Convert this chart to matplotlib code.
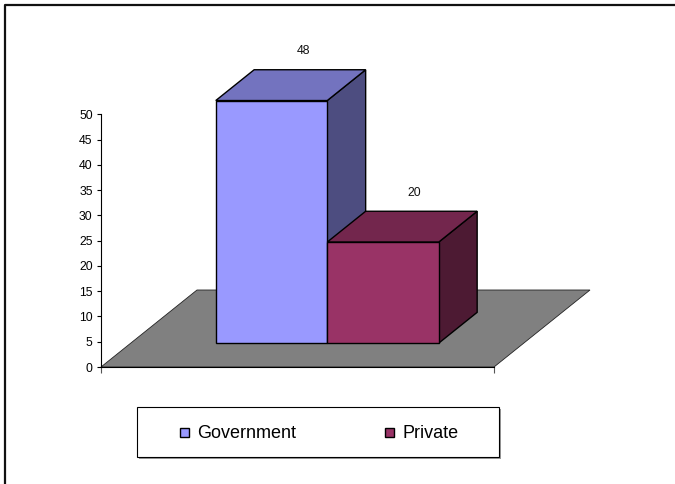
import numpy as np
import matplotlib
matplotlib.use("Agg")
import matplotlib.pyplot as plt
from matplotlib.patches import Polygon, Rectangle
from matplotlib.lines import Line2D

plt.rcParams['font.family'] = ['Liberation Sans', 'DejaVu Sans']

# data
series = ['Government', 'Private']
values = [48, 20]
front_colors = ['#9999FF', '#993366']
top_colors = ['#7373BF', '#73264D']
side_colors = ['#4D4D80', '#4D1A33']
y_ticks = list(range(0, 55, 5))

W, H = 675, 484
fig = plt.figure(figsize=(W / 100, H / 100), dpi=100)

# plot area: front edge of floor, 0..50 on the front axis
ax = fig.add_axes([101 / W, (H - 367) / H, 393 / W, 252.7 / H])
ax.set_facecolor('none')
ax.set_zorder(2)
ax.set_xlim(0, 1)
ax.set_ylim(0, 50)

# 3d depth of the floor in data units
dxu = 96 / 393
dyu = 77 * 50 / 252.7
f0, bd = 0.31, 0.40      # bar front depth and bar depth (fraction of floor depth)
bw = 111.5 / 393         # bar width
cat_center = 0.5

# floor
floor = Polygon([(0, 0), (1, 0), (1 + dxu, dyu), (dxu, dyu)], closed=True,
                facecolor='#808080', edgecolor='#222222', lw=0.6, clip_on=False, zorder=1)
ax.add_patch(floor)

ox, oy = f0 * dxu, f0 * dyu
bx, by = bd * dxu, bd * dyu
for i, (name, v) in enumerate(zip(series, values)):
    x0 = cat_center - bw + i * bw + ox
    x1 = x0 + bw
    front = Polygon([(x0, oy), (x1, oy), (x1, oy + v), (x0, oy + v)],
                    facecolor=front_colors[i], edgecolor='black', lw=1.0,
                    clip_on=False, zorder=3 + i)
    top = Polygon([(x0, oy + v), (x1, oy + v), (x1 + bx, oy + v + by), (x0 + bx, oy + v + by)],
                  facecolor=top_colors[i], edgecolor='black', lw=1.0,
                  clip_on=False, zorder=3 + i)
    side = Polygon([(x1, oy), (x1 + bx, oy + by), (x1 + bx, oy + v + by), (x1, oy + v)],
                   facecolor=side_colors[i], edgecolor='black', lw=1.0,
                   clip_on=False, zorder=3 + i)
    for p in (side, top, front):
        ax.add_patch(p)
    lx = cat_center - bw + i * bw + bw / 2 + 0.64 * dxu
    ax.annotate(str(v), (lx, oy + v + by), xytext=(0, 11), textcoords='offset points',
                ha='center', va='baseline', fontsize=8.8, color='#111111',
                annotation_clip=False, zorder=10)

for s in ['top', 'right']:
    ax.spines[s].set_visible(False)
ax.spines['left'].set_linewidth(0.8)
ax.spines['bottom'].set_linewidth(0.8)
ax.spines['left'].set_zorder(6)
ax.set_yticks(y_ticks)
ax.set_yticklabels([str(t) for t in y_ticks])
ax.tick_params(axis='y', direction='out', length=3, width=0.8, pad=3,
               labelsize=8.8, colors='black')
ax.set_xticks([0, 1])
ax.set_xticklabels(['', ''])
ax.tick_params(axis='x', direction='out', length=4, width=0.8, color='#555555')

# overlay for chart border and legend (pixel coordinates)
lax = fig.add_axes([0, 0, 1, 1])
lax.set_zorder(1)
lax.set_facecolor('none')
lax.set_xlim(0, W)
lax.set_ylim(H, 0)
lax.axis('off')

lax.add_line(Line2D([5, 5, W + 5], [H + 5, 5, 5], color='#111111', lw=1.6))

lax.add_patch(Rectangle((138.5, 408.5), 362, 50, facecolor='#999999', edgecolor='none'))
lax.add_patch(Rectangle((137, 407), 362, 50, facecolor='white', edgecolor='black', lw=0.8))
marker_x = [180, 385]
for i, name in enumerate(series):
    lax.add_patch(Rectangle((marker_x[i], 427.5), 9, 9, facecolor=front_colors[i],
                            edgecolor='black', lw=1.0))
    lax.text(marker_x[i] + 17, 432, name, ha='left', va='center_baseline',
             fontsize=13, color='black')

fig.savefig('out.png', dpi=100)
